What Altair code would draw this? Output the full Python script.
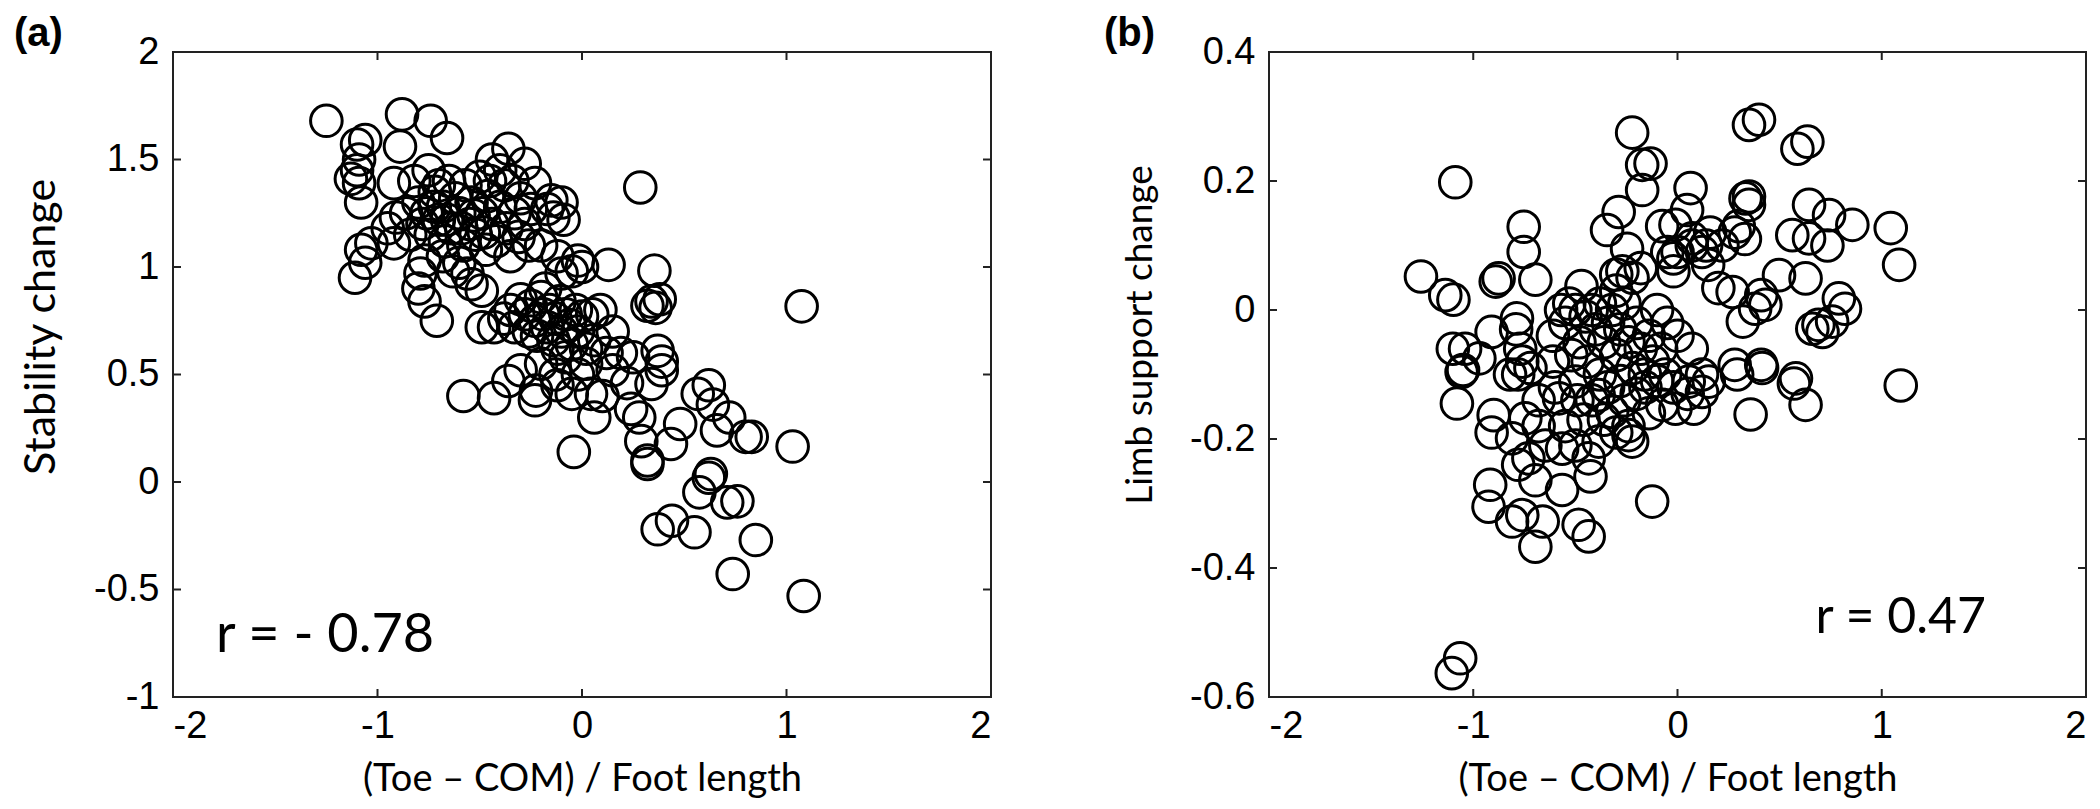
import altair as alt
import pandas as pd

# ---------------- data: panel (a) ----------------
a_x = [-1.25, -0.88, -0.74, -0.66, -1.10, -1.06, -0.89, -1.09, -1.13, -1.09, -1.08, -1.10, -0.92,
       -0.36, -0.44, -0.28, -0.23, -0.15, -0.14, -0.17, -0.10, -0.09, -1.08, -1.11, -1.03, -1.06,
       -0.91, -0.92, -0.95, -0.77, -0.71, -0.77, -0.79, -0.80, -0.49, -0.43, -0.54, -0.49,
       -0.80, -0.78, -0.76, -0.74, -0.72, -0.70, -0.68, -0.67, -0.65, -0.64, -0.62, -0.60, -0.58,
       -0.57, -0.55, -0.54, -0.52, -0.50, -0.49, -0.47, -0.46, -0.44, -0.42, -0.40, -0.38, -0.37,
       -0.35, -0.33, -0.31, -0.30, -0.28, -0.26, -0.25, -0.82, -0.84, -0.86, -0.75, -0.60, -0.63,
       -0.68, -0.56, -0.70, -0.72, -0.66, -0.59, -0.53, -0.48, -0.45, -0.40, -0.34,
       -0.02, 0.13, 0.09, -0.10, -0.05, 0.00, -0.30, -0.28, -0.26, -0.25, -0.23, -0.22, -0.20,
       -0.19, -0.17, -0.16, -0.14, -0.13, -0.11, -0.10, -0.08, -0.06, -0.05, -0.03, -0.02, 0.00,
       -0.35, -0.33, -0.38, -0.18, -0.12, 0.02, -0.08,
       0.285, 1.074, 0.354, 0.34, 0.32, 0.38, 0.36, 0.19, 0.37, 0.39, 0.05, 0.15, 0.06,
       -0.58, -0.43, -0.36, -0.225, -0.23, -0.04, -0.13, -0.05, -0.20, -0.30, -0.12, -0.02, 0.02,
       0.62, 0.566, 0.64, 0.72, 0.66, 0.80, 0.83, 1.03, 0.34, 0.39, 0.06, 0.24, 0.29, 0.32, 0.32,
       0.435, 0.48, 0.044, 0.63, 0.62, 0.574, 0.71, 0.76, 0.37, 0.44, 0.55, 0.85, 0.737, 1.084,
       0.10, 0.15, 0.22, 0.28, 0.12, 0.25, -0.20, -0.12]
a_y = [1.68, 1.71, 1.68, 1.60, 1.57, 1.59, 1.56, 1.50, 1.41, 1.39, 1.30, 1.45, 1.39,
       1.55, 1.50, 1.48, 1.39, 1.31, 1.23, 1.27, 1.30, 1.22, 1.08, 0.95, 1.11, 1.02,
       1.23, 1.11, 1.18, 0.84, 0.75, 1.03, 0.97, 0.90, 0.72, 0.72, 0.92, 0.89,
       1.30, 1.20, 1.25, 1.15, 1.35, 1.22, 1.28, 1.12, 1.40, 1.18, 1.32, 1.25, 1.10,
       1.38, 1.20, 1.30, 1.15, 1.42, 1.25, 1.08, 1.33, 1.20, 1.12, 1.28, 1.38, 1.18,
       1.05, 1.25, 1.14, 1.32, 1.20, 1.10, 1.27, 1.40, 1.15, 1.25, 1.45, 1.02, 0.98,
       1.05, 0.97, 1.38, 1.28, 1.22, 1.18, 1.24, 1.16, 1.40, 1.45, 1.40,
       1.03, 1.01, 0.80, 0.97, 0.98, 1.00, 0.85, 0.78, 0.70, 0.82, 0.75, 0.68, 0.86,
       0.78, 0.72, 0.80, 0.66, 0.76, 0.84, 0.70, 0.78, 0.73, 0.64, 0.80, 0.70, 0.77,
       0.80, 0.72, 0.76, 0.90, 0.62, 0.62, 0.58,
       1.37, 0.817, 0.983, 0.84, 0.82, 0.85, 0.81, 0.60, 0.61, 0.56, 0.78, 0.70, 0.66,
       0.40, 0.39, 0.47, 0.425, 0.38, 0.14, 0.50, 0.41, 0.55, 0.52, 0.45, 0.50, 0.55,
       0.45, 0.41, 0.36, 0.30, 0.24, 0.21, 0.21, 0.165, 0.456, 0.52, 0.30, 0.34, 0.19, 0.084, 0.10,
       0.177, 0.27, 0.41, 0.037, 0.02, -0.048, -0.095, -0.09, -0.22, -0.18, -0.234, -0.27, -0.428, -0.53,
       0.40, 0.52, 0.46, 0.30, 0.60, 0.58, 1.10, 1.05]

# ---------------- data: panel (b) ----------------
b_x = [-1.088, -0.222, -0.173, -0.132, -0.173, -0.288, -0.345, -0.075, -0.753, -0.753, -0.696,
       -0.876, -0.89, -1.256, -1.137, -1.097, -0.786, -0.79, -0.247, -0.27, -0.22, -0.18, -0.30,
       -0.05, -0.02, -0.57, -0.53, -0.50, -0.55, -0.47, -1.10, -1.04, -1.05, -0.91, -0.97, -0.77,
       -0.76, -0.78, -0.61, -0.61,
       0.399, 0.35, 0.636, 0.587, 0.064, 0.047, -0.01, 0.072, 0.333, 0.35, 0.35, 0.644, 0.742,
       0.856, 1.044, 1.085, 0.16, 0.22, 0.28, 0.33, 0.30, 0.562, 0.644, 0.734, 0.12, 0.15, 0.14,
       0.00, -0.02, 0.07, 0.497, 0.627, 0.20, 0.27, 0.41, 0.43, 0.38, 0.32, 0.79, 0.82, 0.757,
       0.69, 0.71, 0.66, -0.10, -0.05, 0.00, 0.07, 0.28, 0.41, 0.58, 0.12, 1.093, 0.358, 0.57,
       0.627, 0.292, 0.414, -0.01, 0.08, 0.12, 0.153, 0.055, -0.124,
       -1.08, -1.057, -0.91, -0.90, -0.917, -0.925, -0.81, -0.76, -0.696, -0.66, -0.484, -0.435,
       -1.064, -1.105, -0.78, -0.696, -0.565, -0.426, -0.81, -0.745, -0.68, -0.647, -0.73, -0.565,
       -0.50, -0.435, -0.386, -0.24, -0.222, -0.24, -0.32, -0.386, -0.50, -0.58, -0.49, -0.157,
       -0.075, -0.82, -0.72,
       -0.45, -0.42, -0.40, -0.38, -0.36, -0.34, -0.32, -0.30, -0.28, -0.26, -0.24, -0.22, -0.20,
       -0.18, -0.16, -0.14, -0.12, -0.10, -0.44, -0.48, -0.52, -0.38, -0.34, -0.28, -0.26, -0.20,
       -0.30, -0.42, -0.46, -0.55, -0.60, -0.68, -0.36, -0.30, -0.14, -0.06, -0.02, 0.05, -0.08]
b_y = [0.198, 0.275, 0.225, 0.227, 0.186, 0.152, 0.124, 0.13, 0.129, 0.09, 0.047,
       0.049, 0.044, 0.052, 0.023, 0.016, -0.013, -0.03, 0.095, 0.06, 0.05, 0.065, 0.055,
       0.09, 0.06, 0.00, 0.01, 0.00, -0.02, 0.037, -0.06, -0.06, -0.093, -0.034, -0.075, -0.06,
       -0.08, -0.10, -0.04, -0.08,
       0.295, 0.287, 0.261, 0.25, 0.189, 0.155, 0.132, 0.111, 0.173, 0.176, 0.163, 0.163, 0.147,
       0.132, 0.127, 0.07, 0.12, 0.10, 0.12, 0.11, 0.13, 0.116, 0.111, 0.10, 0.09, 0.07, 0.10,
       0.09, 0.08, 0.10, 0.054, 0.049, 0.034, 0.028, 0.023, 0.008, 0.002, -0.018, 0.018, 0.002, -0.018,
       -0.023, -0.034, -0.029, 0.00, -0.02, -0.04, -0.06, -0.085, -0.085, -0.106, -0.10, -0.117, -0.162, -0.114,
       -0.147, -0.10, -0.09, -0.153, -0.153, -0.127, -0.111, -0.111, -0.297,
       -0.145, -0.096, -0.19, -0.163, -0.271, -0.305, -0.328, -0.318, -0.367, -0.328, -0.333, -0.351,
       -0.54, -0.563, -0.24, -0.264, -0.279, -0.258, -0.199, -0.168, -0.18, -0.21, -0.23, -0.215,
       -0.21, -0.23, -0.204, -0.194, -0.204, -0.18, -0.158, -0.132, -0.111, -0.137, -0.14, -0.12,
       -0.147, -0.10, -0.09,
       -0.01, 0.00, -0.03, 0.01, -0.05, -0.02, 0.00, -0.07, -0.03, 0.01, -0.05, -0.09, -0.02,
       -0.06, -0.10, -0.04, -0.08, -0.11, -0.08, -0.05, -0.07, -0.10, -0.12, -0.11, -0.14, -0.13,
       0.03, -0.14, -0.17, -0.18, -0.12, -0.14, -0.17, -0.19, -0.16, -0.10, -0.12, -0.13, -0.06]

x_ticks = [-2, -1, 0, 1, 2]
a_y_ticks = [-1, -0.5, 0, 0.5, 1, 1.5, 2]
b_y_ticks = [-0.6, -0.4, -0.2, 0, 0.2, 0.4]
x_title = "(Toe – COM) / Foot length"

TICK = 8
H = 645


def panel(xs_vals, ys_vals, ydom, yticks, ytitle, ytitle_size, ytitle_shift, label, label_dx,
          rtext, rx, ry, rsize, width):
    df = pd.DataFrame({"x": xs_vals, "y": ys_vals})
    xs = alt.Scale(domain=[-2, 2], nice=False, zero=False)
    ys = alt.Scale(domain=ydom, nice=False, zero=False)
    lab = "'' + datum.value"
    xaxis = alt.Axis(values=x_ticks, title=x_title, labelExpr=lab, titleX=width / 2,
                     titleY=93, titleBaseline="alphabetic", titleAlign="center",
                     titleFontSize=38, labelPadding=10)
    yaxis = alt.Axis(values=yticks, title=ytitle, labelExpr=lab, titleX=-110,
                     titleY=H / 2 - ytitle_shift, titleAngle=-90, titleBaseline="bottom",
                     titleAlign="center", titleFontSize=ytitle_size, labelPadding=14)
    X = lambda f: alt.X(f, type="quantitative", scale=xs, axis=xaxis)
    Y = lambda f: alt.Y(f, type="quantitative", scale=ys, axis=yaxis)
    pts = alt.Chart(df).mark_point(shape="circle", filled=False, size=1000, strokeWidth=3,
                                   color="black", opacity=1).encode(x=X("x"), y=Y("y"))
    xt = pd.DataFrame({"x": x_ticks[1:-1]})
    yt = pd.DataFrame({"y": yticks[1:-1]})
    rule = dict(color="#222", strokeWidth=2)
    bot = alt.Chart(xt).mark_rule(**rule).encode(x=X("x"), y=alt.value(H), y2=alt.value(H - TICK))
    top = alt.Chart(xt).mark_rule(**rule).encode(x=X("x"), y=alt.value(0), y2=alt.value(TICK))
    left = alt.Chart(yt).mark_rule(**rule).encode(y=Y("y"), x=alt.value(0), x2=alt.value(TICK))
    right = alt.Chart(yt).mark_rule(**rule).encode(y=Y("y"), x=alt.value(width),
                                                   x2=alt.value(width - TICK))
    rdf = pd.DataFrame({"x": [rx], "y": [ry], "t": [rtext]})
    rt = alt.Chart(rdf).mark_text(align="left", baseline="alphabetic", font="Lato",
                                  fontSize=rsize, color="black").encode(
        x=X("x"), y=Y("y"), text="t:N")
    ldf = pd.DataFrame({"t": [label]})
    lt = alt.Chart(ldf).mark_text(align="left", baseline="alphabetic", font="Liberation Sans",
                                  fontWeight="bold", fontSize=40, color="black").encode(
        x=alt.value(label_dx), y=alt.value(-6), text="t:N")
    return alt.layer(pts, bot, top, left, right, rt, lt).properties(width=width, height=H)


pa = panel(a_x, a_y, [-1, 2], a_y_ticks, "Stability change", 43, 48, "(a)", -159,
           "r = - 0.78", -1.79, -0.79, 54, 818)
pb = panel(b_x, b_y, [-0.6, 0.4], b_y_ticks, "Limb support change", 37, 40, "(b)", -165,
           "r = 0.47", 0.676, -0.50, 50, 817)

chart = alt.hconcat(pa, pb, spacing=278, bounds="flush").properties(
    padding={"left": 5, "top": 5, "right": 0, "bottom": 0}
).configure_view(stroke="#222", strokeWidth=2).configure_axis(
    domain=False, ticks=False, grid=False,
    labelFont="Liberation Sans", labelFontSize=38, labelColor="black",
    titleFont="Lato", titleFontWeight="normal", titleColor="black",
)

chart.save("out.html", embed_options={"renderer": "svg", "actions": False})
